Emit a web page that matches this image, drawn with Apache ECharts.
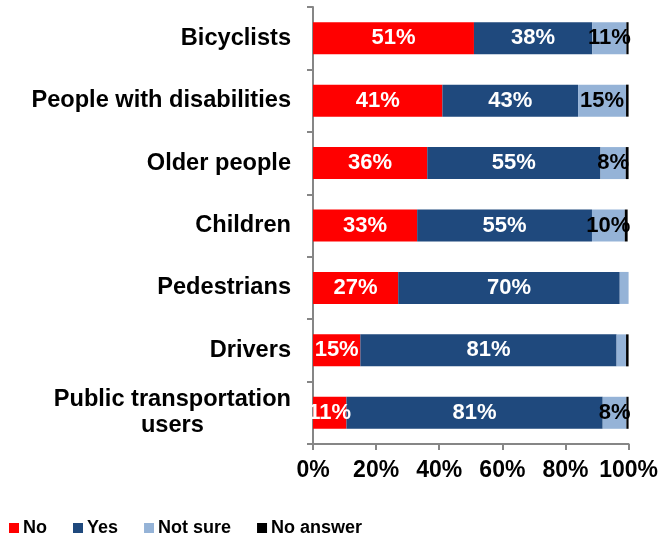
<!DOCTYPE html>
<html>
<head>
<meta charset="utf-8">
<script src="https://cdn.jsdelivr.net/npm/echarts@6/dist/echarts.min.js"></script>
<style>
  html, body { margin: 0; padding: 0; background: #fff; }
  #chart { width: 661px; height: 538px; }
</style>
</head>
<body>
<div id="chart"></div>
<script>
// categorías de arriba abajo
const categories = ['Bicyclists', 'People with disabilities', 'Older people', 'Children',
    'Pedestrians', 'Drivers', 'Public transportation\nusers'];
const noValues = [51, 41, 36.2, 33, 27, 15, 10.6];
const yesValues = [37.5, 43, 54.9, 55.4, 70.2, 81.2, 81.2];
const notSureValues = [10.8, 15.2, 8, 10.4, 2.8, 3, 7.5];
const noAnswerValues = [0.7, 0.8, 0.9, 0.9, 0, 0.8, 0.7];
const xTicks = [0, 20, 40, 60, 80, 100];

const chart = echarts.init(document.getElementById('chart'));
const font = 'Liberation Sans, Arial, sans-serif';

// etiqueta centrada, oculta si el tramo es muy pequeño
function barLabel(color) {
    return {
        show: true,
        position: 'inside',
        color: color,
        fontFamily: font,
        fontWeight: 'bold',
        fontSize: 22,
        formatter: p => p.value >= 5 ? Math.round(p.value) + '%' : ''
    };
}

function serie(name, data, color, labelColor) {
    return {
        name: name,
        type: 'bar',
        stack: 'total',
        data: data,
        barWidth: 32,
        itemStyle: { color: color },
        label: labelColor ? barLabel(labelColor) : { show: false }
    };
}

const option = {
    animation: false,
    textStyle: { fontFamily: font },
    grid: { left: 313, right: 32, top: 7, bottom: 94 },
    legend: {
        left: 4,
        top: 514,
        itemWidth: 10,
        itemHeight: 10,
        itemGap: 26,
        icon: 'rect',
        textStyle: { fontFamily: font, fontWeight: 'bold', fontSize: 18, color: '#000', padding: [0, 0, 0, -1] },
        data: ['No', 'Yes', 'Not sure', 'No answer']
    },
    xAxis: {
        type: 'value',
        min: xTicks[0],
        max: xTicks[xTicks.length - 1],
        interval: 20,
        axisLine: { show: true, lineStyle: { color: '#868686', width: 2 } },
        axisTick: { show: true, length: 6, lineStyle: { color: '#868686', width: 2 } },
        splitLine: { show: false },
        axisLabel: {
            margin: 15,
            color: '#000',
            fontFamily: font,
            fontWeight: 'bold',
            fontSize: 23,
            formatter: '{value}%'
        }
    },
    yAxis: {
        type: 'category',
        inverse: true,
        data: categories,
        axisLine: { show: true, lineStyle: { color: '#868686', width: 2 } },
        axisTick: { show: true, length: 6, lineStyle: { color: '#868686', width: 2 } },
        axisLabel: {
            margin: 22,
            color: '#000',
            align: 'right',
            // cada línea centrada dentro del bloque
            formatter: v => v.split('\n').map(s => '{c|' + s + '}').join('\n'),
            rich: {
                c: {
                    align: 'center',
                    fontFamily: font,
                    fontWeight: 'bold',
                    fontSize: 23.6,
                    lineHeight: 26,
                    color: '#000'
                }
            }
        }
    },
    series: [
        serie('No', noValues, '#FF0000', '#fff'),
        serie('Yes', yesValues, '#1F497D', '#fff'),
        serie('Not sure', notSureValues, '#95B3D7', '#000'),
        serie('No answer', noAnswerValues, '#000000', null)
    ]
};

chart.setOption(option);
</script>
</body>
</html>
